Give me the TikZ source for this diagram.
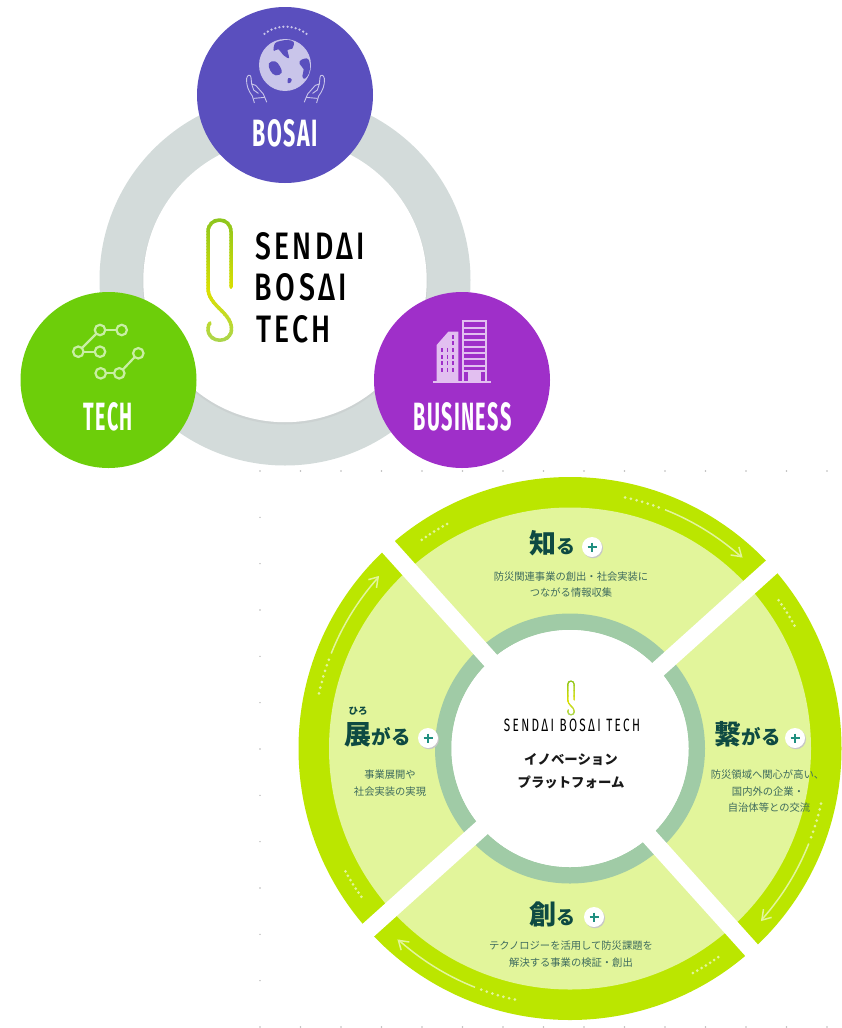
\documentclass[tikz,border=0pt]{standalone}
\usepackage{fontspec}
\usepackage{graphicx}
\newfontfamily\cjk{Noto Sans CJK JP}
\newfontfamily\labf[LetterSpace=7]{Fira Sans}
\newfontfamily\logof[LetterSpace=12]{Fira Sans Medium}
\newfontfamily\logofs[LetterSpace=20]{Fira Sans}
\definecolor{ringgray}{HTML}{D3DBDA}
\definecolor{bosaiC}{HTML}{5A4FBE}
\definecolor{techC}{HTML}{6DCE0A}
\definecolor{busC}{HTML}{9F2FC9}
\definecolor{bright}{HTML}{BBE600}
\definecolor{pale}{HTML}{E2F59B}
\definecolor{teal}{HTML}{A0CBA6}
\definecolor{headC}{HTML}{0E4A42}
\definecolor{bodyC}{HTML}{3E6B5E}
\definecolor{plusC}{HTML}{1F8F80}
\definecolor{bosaiL}{HTML}{C9C5EA}
\definecolor{techL}{HTML}{C9EFA4}
\definecolor{busL}{HTML}{E2BFF0}
\definecolor{hka}{HTML}{8BC51E}
\definecolor{hkb}{HTML}{DCE000}
\definecolor{hkc}{HTML}{A5D454}
\tikzset{
  disc/.style={circle,minimum size=176pt,inner sep=0pt,draw=none},
  capt/.style={inner sep=0pt,white},
  logot/.style={inner sep=0pt,black},
  bodyt/.style={inner sep=0pt,text=bodyC,font=\cjk\fontsize{10.3}{12}\selectfont},
  headt/.style={inner sep=0pt,anchor=base west,text=headC},
  centt/.style={inner sep=0pt,text=black!90,font=\cjk\bfseries\fontsize{13.4}{16}\selectfont},
  plusb/.style={circle,fill=white,minimum size=20pt,inner sep=0pt,text=plusC},
  netn/.style={circle,draw=techL,line width=2.2pt,minimum size=10.5pt,inner sep=0pt},
  netl/.style={draw=techL,line width=2.2pt},
}
\newcommand\drawhook[2]{%
  \foreach \yy in {216,219,...,345}{%
    \pgfmathsetmacro\tt{\yy<290?(\yy-216)/74*100:(\yy-290)/55*100}%
    \ifdim\yy pt<290pt \colorlet{hk}{hkb!\tt!hka}\else \colorlet{hk}{hkc!\tt!hkb}\fi
    \begin{scope}
      \clip (195,\yy) rectangle (245,\yy+3.3);
      \draw[hk,line width=#1,line cap=round,line join=round]
        (231,287) -- (231,232) .. controls (231,216) and (208,216) .. (208,232)
        -- (208,288) .. controls (208,306) and (231.5,312) .. (231.5,329)
        .. controls (231.5,344) and (208,344) .. (208,329)
        .. controls (208,326) and (209,324) .. (210,323);
    \end{scope}
  }%
}
\newcommand\plusmark[3]{%
  \fill[black!22] (#1+1,#2+1.2) circle[radius=10pt];
  \node[plusb] (#3) at (#1,#2) {};
  \draw[plusC,line width=1.2pt] (#1-4.5,#2) -- (#1+4.5,#2) (#1,#2-4.5) -- (#1,#2+4.5);
}
\begin{document}
\begin{tikzpicture}[x=1pt,y=-1pt]
\useasboundingbox (0,0) rectangle (841,1028);
% faint dots
\foreach \k in {0,...,14}{
  \fill[black!28] (260+40.5*\k,471) circle[radius=.8pt];
  \fill[black!28] (260+40.5*\k,1027) circle[radius=.8pt];
}
\foreach \k in {1,...,11}{\fill[black!28] (260,471+46.33*\k) circle[radius=.8pt];}
% upper ring
\fill[ringgray] (285,280) circle[radius=185.5pt];
\fill[black!30,opacity=.2] (285,282) circle[radius=142.5pt];
\fill[white] (285,280.5) circle[radius=141.7pt];
\node[disc,fill=bosaiC] (bosai) at (285,95) {};
\node[disc,fill=techC] (tech) at (108.5,380) {};
\node[disc,fill=busC] (business) at (462,380) {};
\node[capt] (bosaiT) at (285.5,133.5) {\resizebox{65pt}{27pt}{\labf\bfseries BOSAI}};
\node[capt] (techT) at (108.5,417) {\resizebox{49pt}{28pt}{\labf\bfseries TECH}};
\node[capt] (busT) at (462.5,417) {\resizebox{98pt}{28pt}{\labf\bfseries BUSINESS}};
% globe icon
\begin{scope}[shift={(235,20)},scale=1/3]
  \foreach \i in {0,...,11}{\fill[bosaiL] ({151.5+102.6*cos(52+\i*76/11)},{122.6-102.6*sin(52+\i*76/11)}) circle[radius=3.8pt];}
  \fill[bosaiL] (150,135) circle[radius=78pt];
  \fill[bosaiC] plot[smooth cycle,tension=.6] coordinates {(120,70) (136,63) (158,60) (176,66) (172,86) (158,90) (162,114) (146,106) (130,88) (116,92)};
  \fill[bosaiC] plot[smooth cycle,tension=.7] coordinates {(102,130) (120,124) (134,138) (140,158) (122,166) (106,152)};
  \fill[bosaiC] plot[smooth cycle,tension=.7] coordinates {(198,120) (220,118) (224,152) (210,176) (202,168) (206,148) (194,132)};
  \fill[bosaiC] plot[smooth cycle,tension=.7] coordinates {(160,174) (170,178) (166,188) (158,188)};
  \foreach \m in {1,-1}{
   \begin{scope}[shift={(151.5,0)},xscale=\m,shift={(-151.5,0)}]
    \draw[bosaiL,line width=.9pt,line join=round,line cap=round]
      (58,248) -- (52,228) .. controls (40,212) and (33,195) .. (35,175)
      .. controls (37,163) and (47,163) .. (48,172)
      -- (50,192) -- (62,196) -- (85,222) -- (95,246)
      (50,192) -- (56,210) -- (70,220)
      (58,235) -- (90,232);
   \end{scope}
  }
\end{scope}
% network icon
\begin{scope}[shift={(60,315)}]
  \coordinate (n1) at (40,15); \coordinate (n2) at (61.7,15); \coordinate (n3) at (18.3,36.7);
  \coordinate (n4) at (40,36.7); \coordinate (n5) at (40.7,58.3); \coordinate (n6) at (59.3,58.3);
  \coordinate (n7) at (78.3,38.3);
  \foreach \a/\b in {n1/n2,n1/n3,n3/n4,n5/n6,n6/n7}{\draw[netl] (\a) -- (\b);}
  \foreach \a in {n1,n2,n3,n4,n5,n6,n7}{\node[netn,fill=techC] (d\a) at (\a) {};}
\end{scope}
% building icon
\begin{scope}[shift={(420,310)},scale=1/3]
  \fill[busL] (50,215) -- (50,105) -- (85,65) -- (115,65) -- (115,215) -- cycle;
  \foreach \c in {66,82,98}{\foreach \r in {120,140,160,180}{\fill[busC] (\c-2.5,\r-6) rectangle (\c+2.5,\r+6);}}
  \foreach \r in {80,100}{\fill[busC] (95.5,\r-6) rectangle (100.5,\r+6);}
  \draw[busL,line width=2pt] (128,34) rectangle (197,215);
  \foreach \r in {50,69,88,107,126,145,164}{\fill[busL] (128,\r) rectangle (197,\r+6);}
  \fill[busL] (128,181) rectangle (197,186);
  \fill[busL] (145,183) rectangle (182,215);
  \fill[busL] (40,212) rectangle (212,219);
\end{scope}
% main logo
\drawhook{3.5pt}{}
\node[logot] (l1) at (310,246.5) {\resizebox{110pt}{27pt}{\logof SENDΔI}};
\node[logot] (l2) at (301,287.5) {\resizebox{92pt}{27pt}{\logof BOSΔI}};
\node[logot] (l3) at (293.5,329) {\resizebox{75pt}{27pt}{\logof TECH}};
% wheel
\fill[bright] (570,748.5) circle[radius=271.5pt];
\fill[pale] (570,748.5) circle[radius=241pt];
\fill[teal] (570,748.5) circle[radius=135pt];
\fill[white] (570,748.5) circle[radius=118.5pt];
\foreach \a in {42,132}{
  \draw[white,line width=17pt] ({570+290*cos(\a)},{748.5-290*sin(\a)}) -- ({570-290*cos(\a)},{748.5+290*sin(\a)});
}
\fill[white] (570,748.5) circle[radius=118.5pt];
% dots and arrows on the band
\foreach \rot in {0,90,180,270}{
  \foreach \i in {0,...,6}{
    \pgfmathsetmacro\aa{125.4-\i*6.7/6-\rot}
    \pgfmathsetmacro\bb{77.6-\i*7.8/6-\rot}
    \fill[pale] ({570+256*cos(\aa)},{748.5-256*sin(\aa)}) circle[radius=1.5pt];
    \fill[pale] ({570+257*cos(\bb)},{748.5-257*sin(\bb)}) circle[radius=1.5pt];
  }
  \draw[pale,line width=1.5pt] plot[domain=68.3:48.2,samples=24,variable=\t] ({570+257*cos(\t-\rot)},{748.5-257*sin(\t-\rot)});
  \draw[pale,line width=1.5pt,line join=miter]
    ({570+263*cos(50.05-\rot)},{748.5-263*sin(50.05-\rot)}) --
    ({570+257.4*cos(48.2-\rot)},{748.5-257.4*sin(48.2-\rot)}) --
    ({570+251.5*cos(50.3-\rot)},{748.5-251.5*sin(50.3-\rot)});
}
% small logo
\begin{scope}[shift={(509.5,619.5)},scale=.28]
  \drawhook{1.1pt}{}
\end{scope}
\node[logot] (sl) at (572,725.5) {\resizebox{136pt}{12.5pt}{\logofs SENDΔI BOSΔI TECH}};
\node[centt] (c1) at (571,759.5) {イノベーション};
\node[centt] (c2) at (571,782.5) {プラットフォーム};
% headings
\node[headt] (h1) at (529.5,553.5) {\cjk\bfseries\fontsize{27}{27}\selectfont 知\fontsize{19}{19}\selectfont る};
\node[headt] (h2) at (344.5,744) {\cjk\bfseries\fontsize{27}{27}\selectfont 展\fontsize{19.5}{19}\selectfont がる};
\node[headt] (h3) at (714.5,744) {\cjk\bfseries\fontsize{27}{27}\selectfont 繋\fontsize{19.5}{19}\selectfont がる};
\node[headt] (h4) at (529.5,924) {\cjk\bfseries\fontsize{27}{27}\selectfont 創\fontsize{19}{19}\selectfont る};
\node[inner sep=0pt,text=headC] (ruby) at (358,711.5) {\cjk\bfseries\fontsize{9.5}{10}\selectfont ひろ};
\plusmark{592}{547}{p1}
\plusmark{428}{738}{p2}
\plusmark{795}{738}{p3}
\plusmark{594}{917}{p4}
% descriptions
\node[bodyt] (t1a) at (571,577) {防災関連事業の創出・社会実装に};
\node[bodyt] (t1b) at (571,593) {つながる情報収集};
\node[bodyt] (t2a) at (390,775) {事業展開や};
\node[bodyt] (t2b) at (390,792) {社会実装の実現};
\node[bodyt] (t3a) at (767.5,775) {防災領域へ関心が高い、};
\node[bodyt] (t3b) at (768,792) {国内外の企業・};
\node[bodyt] (t3c) at (769,808) {自治体等との交流};
\node[bodyt] (t4a) at (571,946) {テクノロジーを活用して防災課題を};
\node[bodyt] (t4b) at (571,963) {解決する事業の検証・創出};
\end{tikzpicture}
\end{document}
